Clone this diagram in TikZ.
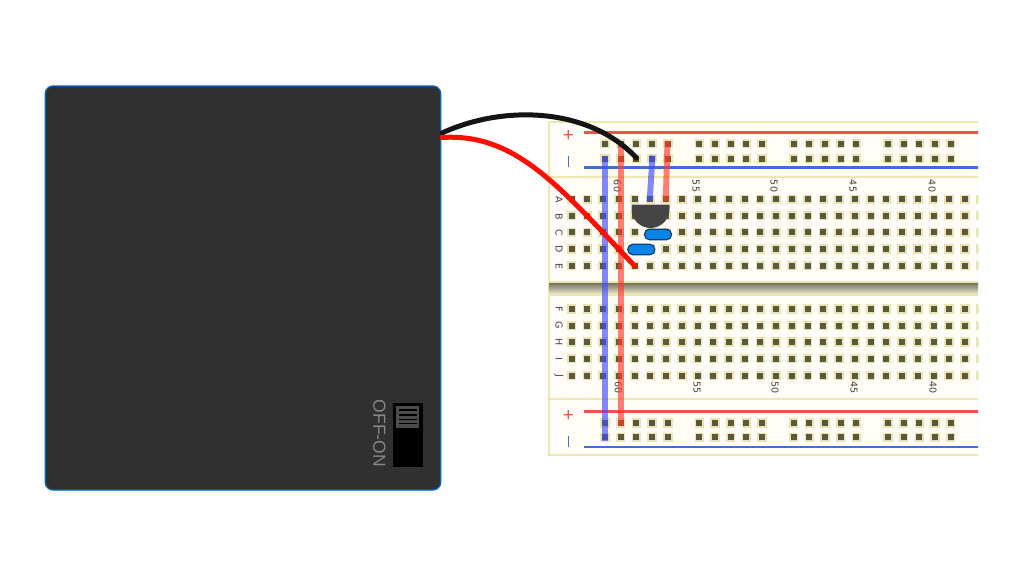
\documentclass[tikz,border=0pt]{standalone}
\usepackage{fontspec}
\setmainfont{Liberation Sans}
\newfontfamily\boardfont{DejaVu Sans}
\usetikzlibrary{positioning}

\definecolor{boardcream}{HTML}{FFFDF6}
\definecolor{boardedge}{HTML}{EDE7B0}
\definecolor{holehalo}{HTML}{E9E5B2}
\definecolor{holedark}{HTML}{5C5840}
\definecolor{railred}{HTML}{F0524A}
\definecolor{railblue}{HTML}{3F6FD8}
\definecolor{wireblue}{HTML}{3F4DFF}
\definecolor{wirered}{HTML}{FF3A2A}
\definecolor{capblue}{HTML}{0A84E8}
\definecolor{capedge}{HTML}{0B3F78}

\begin{document}
\begin{tikzpicture}[
						x=1pt, y=-1pt,
						% Define the looks that repeat
						hole halo/.style={fill=holehalo, draw=none, minimum size=9.5pt, inner sep=0pt},
						hole core/.style={fill=holedark, draw=none, minimum size=6pt, inner sep=0pt},
						rail line/.style={line width=2.2pt},
						board label/.style={rotate=-90, font=\boardfont\fontsize{9.5}{9.5}\selectfont, text=black!75},
						jumper blue/.style={line width=6pt, draw=wireblue, opacity=.65},
						jumper red/.style={line width=6pt, draw=wirered, opacity=.65},
						battery lead/.style={line width=5pt, line cap=round},
						capacitor/.style={rounded corners=5pt, draw=capedge, line width=1.2pt, fill=capblue, minimum width=27pt, minimum height=10.5pt, inner sep=0pt}
						]
						\useasboundingbox (0,0) rectangle (1024,576);
						\fill[white] (0,0) rectangle (1024,576);
						
						% --- Breadboard ---
						\begin{scope}
						\clip (540,110) rectangle (978,470);
						\fill[boardcream] (549,122) rectangle (990,455);
						\draw[boardedge, line width=1.1pt] (549,122) rectangle (990,455);
						\draw[boardedge, line width=1.6pt] (549,177) -- (990,177);
						\draw[boardedge, line width=1.6pt] (549,399) -- (990,399);
						\shade[top color=black!55!boardedge, bottom color=boardedge!45!white] (549,282) rectangle (990,295);
						\draw[boardedge, line width=1.2pt] (549,282) -- (990,282);
						\draw[boardedge, line width=1.2pt] (549,295) -- (990,295);
						
						% Rails
						\draw[rail line, railred] (584,132.5) -- (990,132.5);
						\draw[rail line, railblue] (584,167.5) -- (990,167.5);
						\draw[rail line, railred] (584,411.5) -- (990,411.5);
						\draw[rail line, railblue] (584,447) -- (990,447);
						
						% Rail holes, five per group
						\foreach \rowy in {143.7,158.7,423,437.3}
						\foreach \group in {0,1,2,3}
						\foreach \col in {0,...,4} {
							\node[hole halo] at ({605+\group*94.3+\col*15.7},\rowy) {};
							\node[hole core] at ({605+\group*94.3+\col*15.7},\rowy) {};
						}
						
						% Main holes
						\foreach \rowy in {199.3,215.7,232.3,249,265.7,309,325.5,342,358.7,375.5}
						\foreach \col in {0,...,26} {
							\node[hole halo] at ({571.7+\col*15.73},\rowy) {};
							\node[hole core] at ({571.7+\col*15.73},\rowy) {};
						}
						\end{scope}
						
						% Signs on the rails
						\foreach \signy in {136,416}
						\node[text=railred, font=\fontsize{19}{19}\selectfont] at (568.5,\signy) {+};
						\foreach \signy in {161,441}
						\draw[railblue, line width=1pt] (568.5,\signy-5.5) -- (568.5,\signy+5.5);
						
						% Row letters and column numbers
						\foreach \letter/\rowy in {A/200,B/216.5,C/233,D/249.5,E/266,F/309,G/325.5,H/342,I/359,J/376}
						\node[board label] at (559,\rowy) {\letter};
						\foreach \num/\colx in {60/617.3,55/696,50/774,45/853,40/932}
						\node[board label] at (\colx,186) {\num};
						\foreach \num/\colx in {60/618.3,55/697,50/775,45/854,40/933}
						\node[board label] at (\colx,387.5) {\num};
						
						% Ends of the jumpers
						\coordinate (bluetop) at (605,155.5);
						\coordinate (bluebot) at (605,440.5);
						\coordinate (redtop) at (620.7,145);
						\coordinate (redbot) at (620.7,426);
						\coordinate (pinblue) at (652.5,155.5);
						\coordinate (pinbluelow) at (649.7,201);
						\coordinate (pinred) at (667.5,141);
						\coordinate (pinredlow) at (665.8,201);
						
						% --- Draw the jumpers ---
						\draw[jumper blue] (bluetop) -- (bluebot);
						\draw[jumper red] (redtop) -- (redbot);
						\draw[jumper blue] (pinblue) -- (pinbluelow);
						\draw[jumper red] (pinred) -- (pinredlow);
						
						% Transistor and capacitors
						\fill[black!73] (631.5,204.5) -- (669.5,204.5) -- (669.5,209) arc[start angle=0, end angle=-180, x radius=19pt, y radius=19pt] -- cycle;
						\node[capacitor] (capA) at (658,234.5) {};
						\node[capacitor] (capB) at (641.3,249.5) {};
						
						% --- Battery pack ---
						\node[draw=black!40!blue!60!cyan, line width=1.4pt, fill=black!81, rounded corners=8pt, minimum width=395.5pt, minimum height=404pt, inner sep=0pt] (batt) at (243,288) {};
						\node[fill=black, minimum width=30pt, minimum height=64pt, inner sep=0pt] (switch) at (408,434.5) {};
						\node[fill=black!70, minimum width=23.5pt, minimum height=22pt, inner sep=0pt] (slider) at (407.5,417) {};
						\foreach \liney in {410,415,419.3,423.3}
						\draw[black, line width=1.2pt] (399,\liney) -- (416.7,\liney);
						\node[rotate=-90, text=black!47, font=\fontsize{17.5}{17.5}\selectfont] (label) at (379.5,433.3) {OFF-ON};
						
						% --- Draw the battery leads ---
						\coordinate (leadblack) at (442,133);
						\coordinate (leadred) at (442,137.5);
						\coordinate (blackend) at (636.5,158);
						\coordinate (redend) at (634.7,266);
						\draw[battery lead, black!92] (leadblack) .. controls (505,104) and (590,108) .. (blackend);
						\draw[battery lead, red!90!orange] (leadred) .. controls (515,133) and (558,185) .. (redend);
					\end{tikzpicture}
\end{document}
